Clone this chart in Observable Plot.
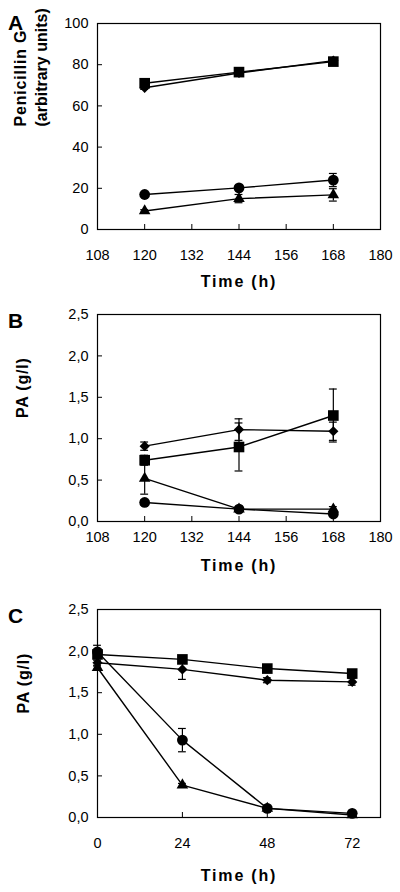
<!DOCTYPE html>
<html><head><meta charset="utf-8">
<script src="https://cdn.jsdelivr.net/npm/d3@7"></script>
<script src="https://cdn.jsdelivr.net/npm/@observablehq/plot@0.6"></script>
<style>
body{margin:0;background:#fff;width:400px;height:892px;overflow:hidden}
#chart > svg{display:block}
</style>
</head><body><div id="chart"></div>
<script>
// ---- data ----
const hoursAB = [120, 144, 168];
const hoursC = [0, 24, 48, 72];
const xTicksAB = [108, 120, 132, 144, 156, 168, 180];
const xTicksC = [0, 24, 48, 72];
const yTicksA = [0, 20, 40, 60, 80, 100];
const yTicksPA = [0, 0.5, 1, 1.5, 2, 2.5];
const xTitle = "Time (h)";
const yTitleA = "Penicillin G\n(arbitrary units)";
const yTitlePA = "PA (g/l)";

// Panel A: Penicillin G (arbitrary units)
const aSquare = [71.0, 76.4, 81.5];
const aSquareErr = [1.0, 1.0, 1.2];
const aDiamond = [68.8, 76.0, 82.0];
const aDiamondErr = [0.8, 1.0, 1.0];
const aCircle = [17.0, 20.2, 24.0];
const aCircleErr = [0.8, 0.8, 3.2];
const aTriangle = [9.0, 15.0, 16.8];
const aTriangleErr = [0.6, 2.0, 3.0];

// Panel B: PA (g/l)
const bSquare = [0.74, 0.90, 1.28];
const bSquareErr = [0.06, 0.29, 0.32];
const bDiamond = [0.91, 1.11, 1.09];
const bDiamondErr = [0.05, 0.13, 0.11];
const bTriangle = [0.52, 0.15, 0.15];
const bTriangleErr = [0.19, 0.02, 0.03];
const bCircle = [0.23, 0.15, 0.09];
const bCircleErr = [0.03, 0.02, 0.02];

// Panel C: PA (g/l)
const cSquare = [1.96, 1.90, 1.79, 1.73];
const cSquareErr = [0.05, 0.03, 0.03, 0.03];
const cDiamond = [1.86, 1.78, 1.65, 1.63];
const cDiamondErr = [0.03, 0.12, 0.03, 0.04];
const cCircle = [1.99, 0.93, 0.11, 0.05];
const cCircleErr = [0.08, 0.14, 0.02, 0.01];
const cTriangle = [1.80, 0.39, 0.11, 0.03];
const cTriangleErr = [0.02, 0.02, 0.01, 0.01];

// ---- drawing ----
const symbolSize = {square: 6, diamond2: 4.6, circle: 5.4, triangle: 4.3};
const commaFmt = d => d.toFixed(1).replace(".", ",");

function panel(o) {
  const data = o.series.flatMap(s => o.hours.map((t, i) => ({t, v: s.values[i], e: s.errors[i], key: s.symbol})));
  const cap = o.cap;
  const svg = Plot.plot({
    width: 400,
    height: o.height,
    marginLeft: 97,
    marginRight: 20,
    marginTop: o.marginTop,
    marginBottom: o.marginBottom,
    style: {fontFamily: "'Liberation Sans', Arial, sans-serif", background: "white", color: "black"},
    x: {domain: o.xDomain},
    y: {domain: o.yDomain},
    marks: [
      Plot.axisX({ticks: o.xTicks, tickSize: -5, fill: "none", label: null}),
      Plot.axisX({ticks: o.xTicks, tickSize: 0, tickPadding: o.tickPad, fontSize: 14.5, label: null}),
      Plot.axisY({ticks: o.yTicks, tickSize: -5, fill: "none", label: null}),
      Plot.axisY({ticks: o.yTicks, tickSize: 0, tickPadding: 9, fontSize: 14.5, tickFormat: o.yFmt, label: null}),
      Plot.frame({stroke: "black", strokeWidth: 1.2}),
      Plot.line(data, {x: "t", y: "v", z: "key", stroke: "black", strokeWidth: 1.4}),
      Plot.ruleX(data, {x: "t", y1: d => d.v - d.e, y2: d => d.v + d.e, stroke: "black", strokeWidth: 1.2}),
      Plot.ruleY(data, {y: d => d.v + d.e, x1: d => d.t - cap, x2: d => d.t + cap, stroke: "black", strokeWidth: 1.2}),
      Plot.ruleY(data, {y: d => d.v - d.e, x1: d => d.t - cap, x2: d => d.t + cap, stroke: "black", strokeWidth: 1.2}),
      ...o.series.map(s => Plot.dot(data.filter(d => d.key === s.symbol), {
        x: "t", y: "v", symbol: s.symbol, r: symbolSize[s.symbol], fill: "black", stroke: "none"
      })),
      Plot.text([o.letter], {frameAnchor: "top-left", dx: -82, dy: o.letterDy, fontSize: 21, fontWeight: "bold", textAnchor: "middle", lineAnchor: "middle"}),
      Plot.text([xTitle], {frameAnchor: "bottom", dy: o.titleDy, fontSize: 16, fontWeight: "bold", lineAnchor: "middle"}),
      Plot.text([o.yLabel], {frameAnchor: "left", dx: o.yLabelDx, rotate: -90, fontSize: 16, fontWeight: "bold", lineAnchor: "middle", lineHeight: 1.31})
    ]
  });
  // letter spacing of the axis titles, as in the reference
  svg.querySelectorAll("text").forEach(t => {
    if (t.textContent === xTitle) t.style.letterSpacing = "1.8px";
    else if (t.textContent.replace(/\s/g, "") === o.yLabel.replace(/\s/g, "")) {
      const spans = t.querySelectorAll("tspan");
      if (spans.length > 1) spans[0].style.letterSpacing = "0.8px";
      else t.style.letterSpacing = "0.8px";
    }
  });
  return svg;
}

const chart = document.getElementById("chart");
chart.append(panel({
  letter: "A", hours: hoursAB,
  series: [
    {symbol: "square", values: aSquare, errors: aSquareErr},
    {symbol: "diamond2", values: aDiamond, errors: aDiamondErr},
    {symbol: "circle", values: aCircle, errors: aCircleErr},
    {symbol: "triangle", values: aTriangle, errors: aTriangleErr}
  ],
  xDomain: [108, 180], xTicks: xTicksAB, yDomain: [0, 100], yTicks: yTicksA, yFmt: d => String(d),
  yLabel: yTitleA, yLabelDx: -68,
  height: 292, marginTop: 23, marginBottom: 63, tickPad: 20, titleDy: 52, letterDy: 0, cap: 1.0
}));
chart.append(panel({
  letter: "B", hours: hoursAB,
  series: [
    {symbol: "square", values: bSquare, errors: bSquareErr},
    {symbol: "diamond2", values: bDiamond, errors: bDiamondErr},
    {symbol: "triangle", values: bTriangle, errors: bTriangleErr},
    {symbol: "circle", values: bCircle, errors: bCircleErr}
  ],
  xDomain: [108, 180], xTicks: xTicksAB, yDomain: [0, 2.5], yTicks: yTicksPA, yFmt: commaFmt,
  yLabel: yTitlePA, yLabelDx: -76,
  height: 286, marginTop: 22, marginBottom: 57, tickPad: 10, titleDy: 44, letterDy: 7, cap: 1.0
}));
chart.append(panel({
  letter: "C", hours: hoursC,
  series: [
    {symbol: "square", values: cSquare, errors: cSquareErr},
    {symbol: "diamond2", values: cDiamond, errors: cDiamondErr},
    {symbol: "circle", values: cCircle, errors: cCircleErr},
    {symbol: "triangle", values: cTriangle, errors: cTriangleErr}
  ],
  xDomain: [0, 80], xTicks: xTicksC, yDomain: [0, 2.5], yTicks: yTicksPA, yFmt: commaFmt,
  yLabel: yTitlePA, yLabelDx: -75,
  height: 314, marginTop: 31, marginBottom: 75, tickPad: 20, titleDy: 58, letterDy: 7, cap: 1.1
}));
</script>
</body></html>
